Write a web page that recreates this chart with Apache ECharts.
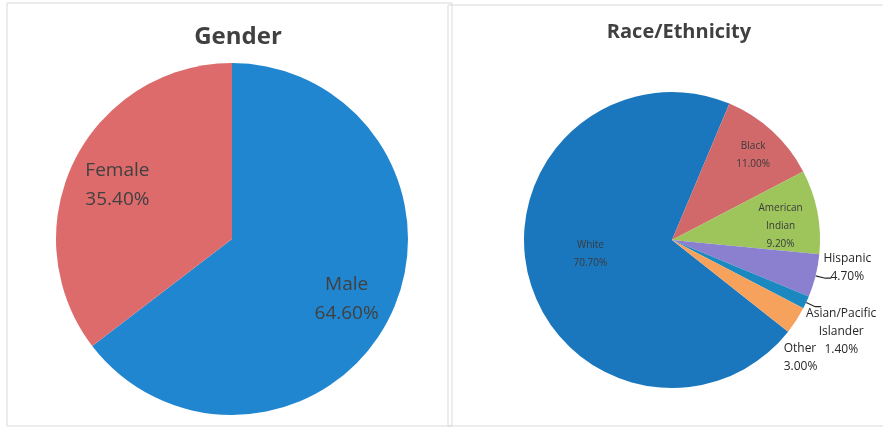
<!DOCTYPE html>
<html>
<head>
<meta charset="utf-8">
<title>Gender and Race/Ethnicity</title>
<script src="https://cdn.jsdelivr.net/npm/echarts@6/dist/echarts.min.js"></script>
<style>
  html, body { margin: 0; padding: 0; background: #fff; }
  #chart { width: 883px; height: 429px; }
</style>
</head>
<body>
<div id="chart"></div>
<script>
  // data
  var genderNames = ['Male', 'Female'];
  var genderValues = [64.6, 35.4];
  var genderColors = ['#2186d0', '#de6b6b'];

  var raceNames = ['White', 'Black', 'American\nIndian', 'Hispanic', 'Asian/Pacific\nIslander', 'Other'];
  var raceValues = [70.7, 11.0, 9.2, 4.7, 1.4, 3.0];
  var raceColors = ['#1b77bd', '#d1696a', '#9dc55c', '#8a80cf', '#1c88c0', '#f7a25c'];
  var raceOutside = ['Hispanic', 'Asian/Pacific\nIslander', 'Other'];

  // small nudges for the labels, [dx, dy, align]
  var genderNudge = [[33, 20], [-33, -14]];
  var raceNudge = [[-7, -5], [29, -28], [33, 1], [11, -11, 'center'], [15, 25, 'center'], [-32, 32, 'left']];

  function pct(p) {
    return p.name + '\n' + p.value.toFixed(2) + '%';
  }

  var chart = echarts.init(document.getElementById('chart'));

  var option = {
    animation: false,
    graphic: [
      { type: 'rect', shape: { x: 7, y: 3, width: 445, height: 423 },
        style: { fill: 'none', stroke: '#d9d9d9', lineWidth: 1 }, silent: true },
      { type: 'rect', shape: { x: 448, y: 5, width: 460, height: 421 },
        style: { fill: 'none', stroke: '#d9d9d9', lineWidth: 1 }, silent: true }
    ],
    title: [
      { text: 'Gender', left: 233, top: 20, textAlign: 'center',
        textStyle: { fontFamily: 'Open Sans', fontWeight: 'bold', fontSize: 24, color: '#404040' } },
      { text: 'Race/Ethnicity', left: 674, top: 17, textAlign: 'center',
        textStyle: { fontFamily: 'Open Sans', fontWeight: 'bold', fontSize: 20, color: '#404040' } }
    ],
    series: [
      {
        type: 'pie',
        center: [232, 239],
        radius: 176,
        startAngle: 90,
        clockwise: true,
        avoidLabelOverlap: false,
        silent: true,
        data: genderNames.map(function (n, i) {
          return { name: n, value: genderValues[i], itemStyle: { color: genderColors[i] } };
        }),
        label: {
          position: 'inside',
          formatter: pct,
          fontFamily: 'Open Sans',
          fontSize: 19,
          lineHeight: 29,
          color: '#404040'
        },
        labelLayout: function (p) {
          var o = genderNudge[p.dataIndex];
          return { dx: o[0], dy: o[1] };
        }
      },
      {
        type: 'pie',
        center: [672, 240],
        radius: 148,
        startAngle: 321.7,
        clockwise: true,
        avoidLabelOverlap: false,
        silent: true,
        data: raceNames.map(function (n, i) {
          var out = raceOutside.indexOf(n) >= 0;
          return {
            name: n,
            value: raceValues[i],
            itemStyle: { color: raceColors[i] },
            label: out
              ? { position: 'outside', fontSize: 12, lineHeight: 18, color: '#262626' }
              : { position: 'inside', fontSize: 10, lineHeight: 18, color: '#3a3a3a' },
            labelLine: { show: out && n !== 'Other' }
          };
        }),
        label: {
          formatter: pct,
          fontFamily: 'Open Sans'
        },
        labelLine: {
          length: 10,
          length2: 6,
          lineStyle: { color: '#262626', width: 1.2 }
        },
        labelLayout: function (p) {
          var o = raceNudge[p.dataIndex];
          var r = { dx: o[0], dy: o[1] };
          if (o[2]) r.align = o[2];
          return r;
        }
      }
    ]
  };

  chart.setOption(option);
</script>
</body>
</html>
